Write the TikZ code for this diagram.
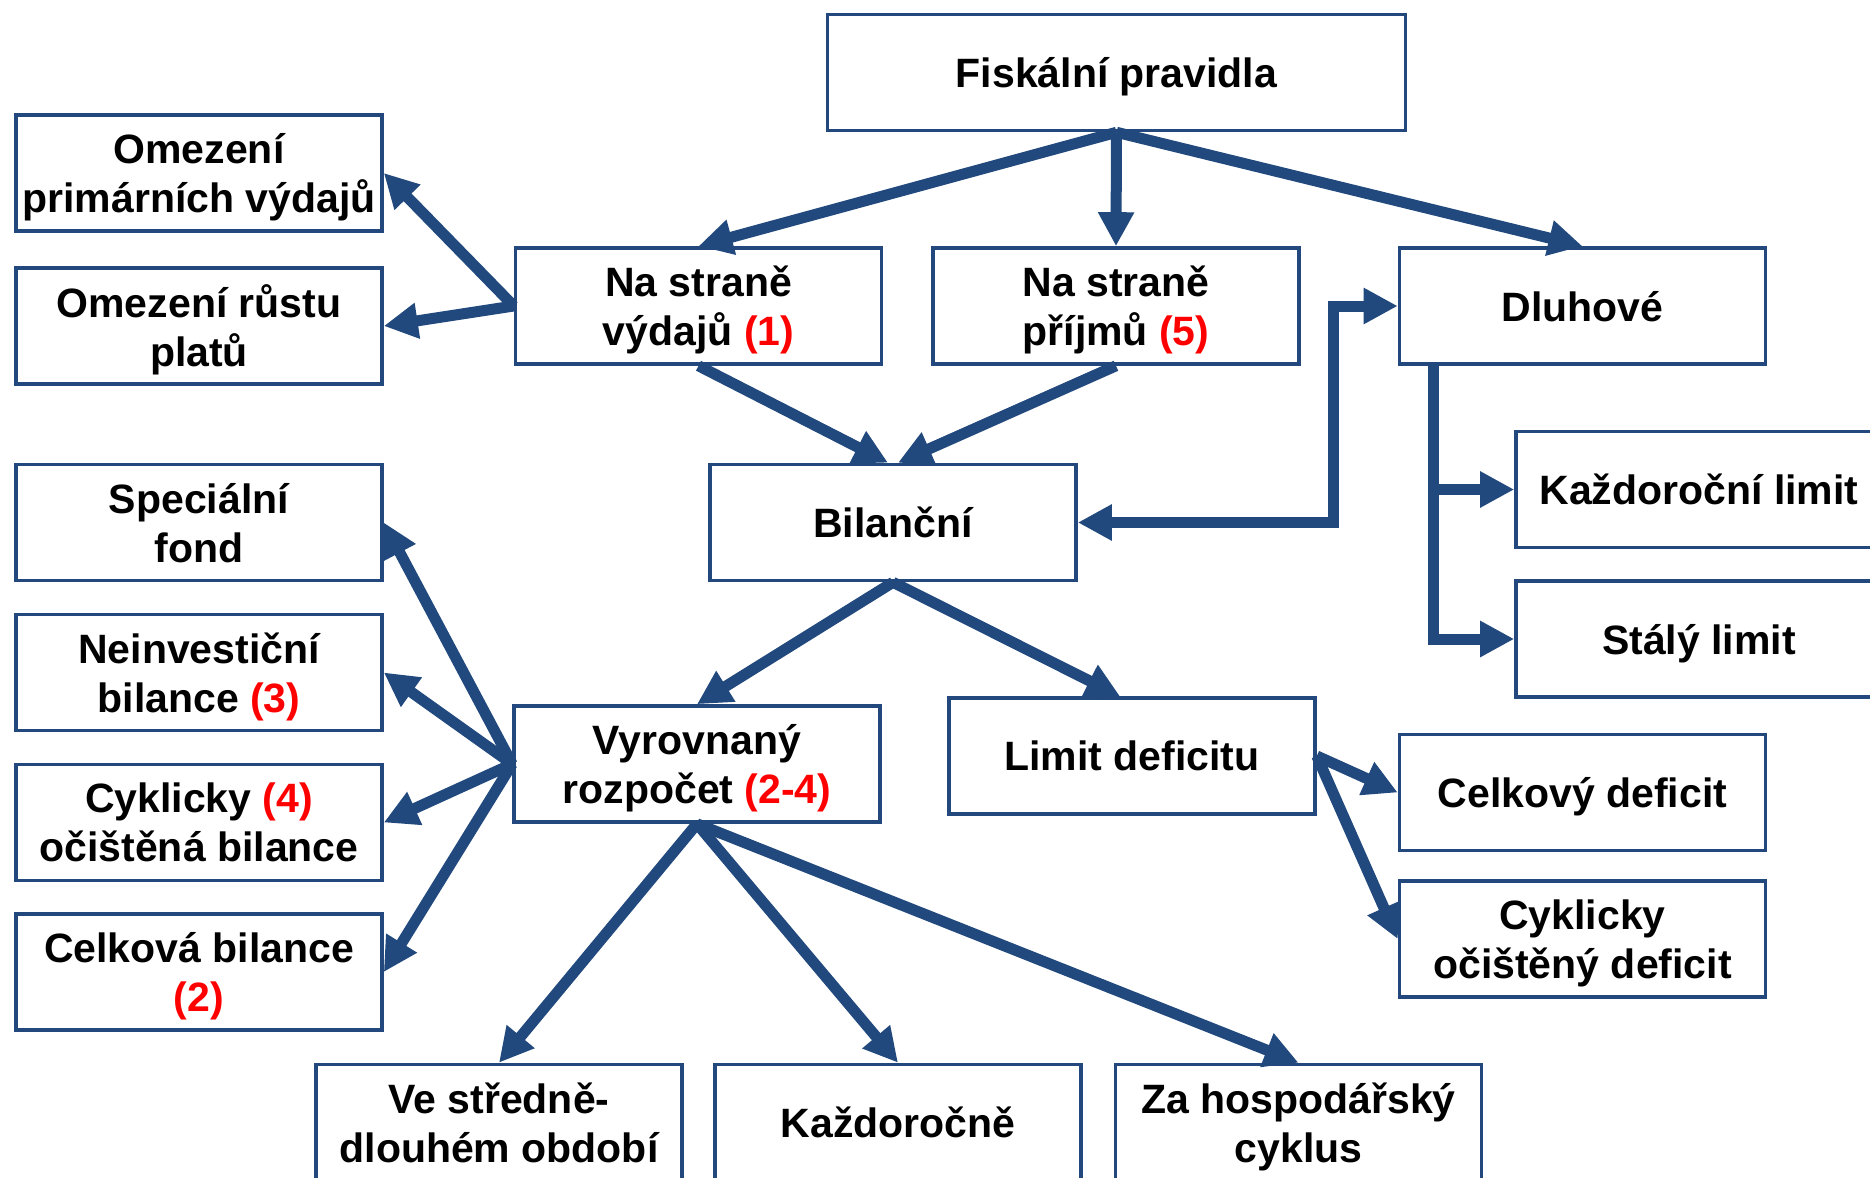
\documentclass[tikz,border=0pt]{standalone}
\usepackage{fontspec}
\setmainfont{Liberation Sans}
\usetikzlibrary{arrows.meta}
\definecolor{boxblue}{RGB}{35,72,125}
\definecolor{arrblue}{RGB}{33,73,125}
\definecolor{numred}{RGB}{255,0,0}
\newcommand{\nr}[1]{\textcolor{numred}{#1}}
\tikzset{
  box/.style={draw=boxblue, line width=1.8pt, fill=white, minimum width=183pt,
    minimum height=58pt, inner sep=0pt, align=center, text depth=0pt,
    font=\fontsize{20.5}{24.5}\selectfont\bfseries, text=black},
  widebox/.style={box, minimum width=289pt},
  >={Triangle[length=17pt,width=17pt]},
  conn/.style={draw=arrblue, line width=5.5pt, ->},
  dconn/.style={draw=arrblue, line width=5.5pt, <->, line join=miter},
}
\begin{document}
\begin{tikzpicture}[x=0.5pt,y=-0.5pt]
\useasboundingbox (0,0) rectangle (1870,1178);
\fill[white] (0,0) rectangle (1870,1178);
% nodes
\node[widebox] (fisk) at (1116.5,72.5) {Fiskální pravidla};
\node[box] (omp) at (199,173) {Omezení\\primárních výdajů};
\node[box] (omr) at (199,326) {Omezení růstu\\platů};
\node[box] (nsv) at (698.5,306) {Na straně\\výdajů \nr{(1)}};
\node[box] (nsp) at (1116,306) {Na straně\\příjmů \nr{(5)}};
\node[box] (dluh) at (1582.5,306) {Dluhové};
\node[box] (spec) at (199,522.5) {Speciální\\fond};
\node[box] (bil) at (893,522.5) {Bilanční};
\node[box] (kazl) at (1699,489.5) {Každoroční limit};
\node[box] (stal) at (1699,639) {Stálý limit};
\node[box] (nein) at (199,672.5) {Neinvestiční\\bilance \nr{(3)}};
\node[box] (vyr) at (697,764) {Vyrovnaný\\rozpočet \nr{(2-4)}};
\node[box] (limd) at (1132,756) {Limit deficitu};
\node[box] (celd) at (1582.5,792.5) {Celkový deficit};
\node[box] (cyb) at (199,822.5) {Cyklicky \nr{(4)}\\očištěná bilance};
\node[box] (cyd) at (1582.5,939) {Cyklicky\\očištěný deficit};
\node[box] (celb) at (199,972) {Celková bilance\\\nr{(2)}};
\node[box] (ves) at (499,1122.5) {Ve středně-\\dlouhém období};
\node[box] (kazd) at (898,1122.5) {Každoročně};
\node[box] (zah) at (1298.5,1122.5) {Za hospodářský\\cyklus};
% connectors
\draw[conn] (fisk.south) -- (nsv.north);
\draw[conn] (fisk.south) -- (nsp.north);
\draw[conn] (fisk.south) -- (dluh.north);
\draw[conn] (nsv.west) -- (omp.east);
\draw[conn] (nsv.west) -- (omr.east);
\draw[conn] (nsv.south) -- ([xshift=-2.5pt]bil.north);
\draw[conn] (nsp.south) -- ([xshift=2.5pt]bil.north);
\coordinate (j1) at (1333,306);
\draw[dconn] (bil.east) -| (j1) -- (dluh.west);
\coordinate (d1) at (1433,365);
\draw[conn, line join=miter] (d1) |- (stal.west);
\draw[conn] (d1 |- kazl.west) -- (kazl.west);
\draw[conn] (bil.south) -- (vyr.north);
\draw[conn] (bil.south) -- ([xshift=-6pt]limd.north);
\draw[conn] (vyr.west) -- (spec.east);
\draw[conn] (vyr.west) -- (nein.east);
\draw[conn] (vyr.west) -- (cyb.east);
\draw[conn] (vyr.west) -- (celb.east);
\draw[conn] (vyr.south) -- (ves.north);
\draw[conn] (vyr.south) -- (kazd.north);
\draw[conn] (vyr.south) -- (zah.north);
\draw[conn] (limd.east) -- (celd.west);
\draw[conn] (limd.east) -- (cyd.west);
\end{tikzpicture}
\end{document}
